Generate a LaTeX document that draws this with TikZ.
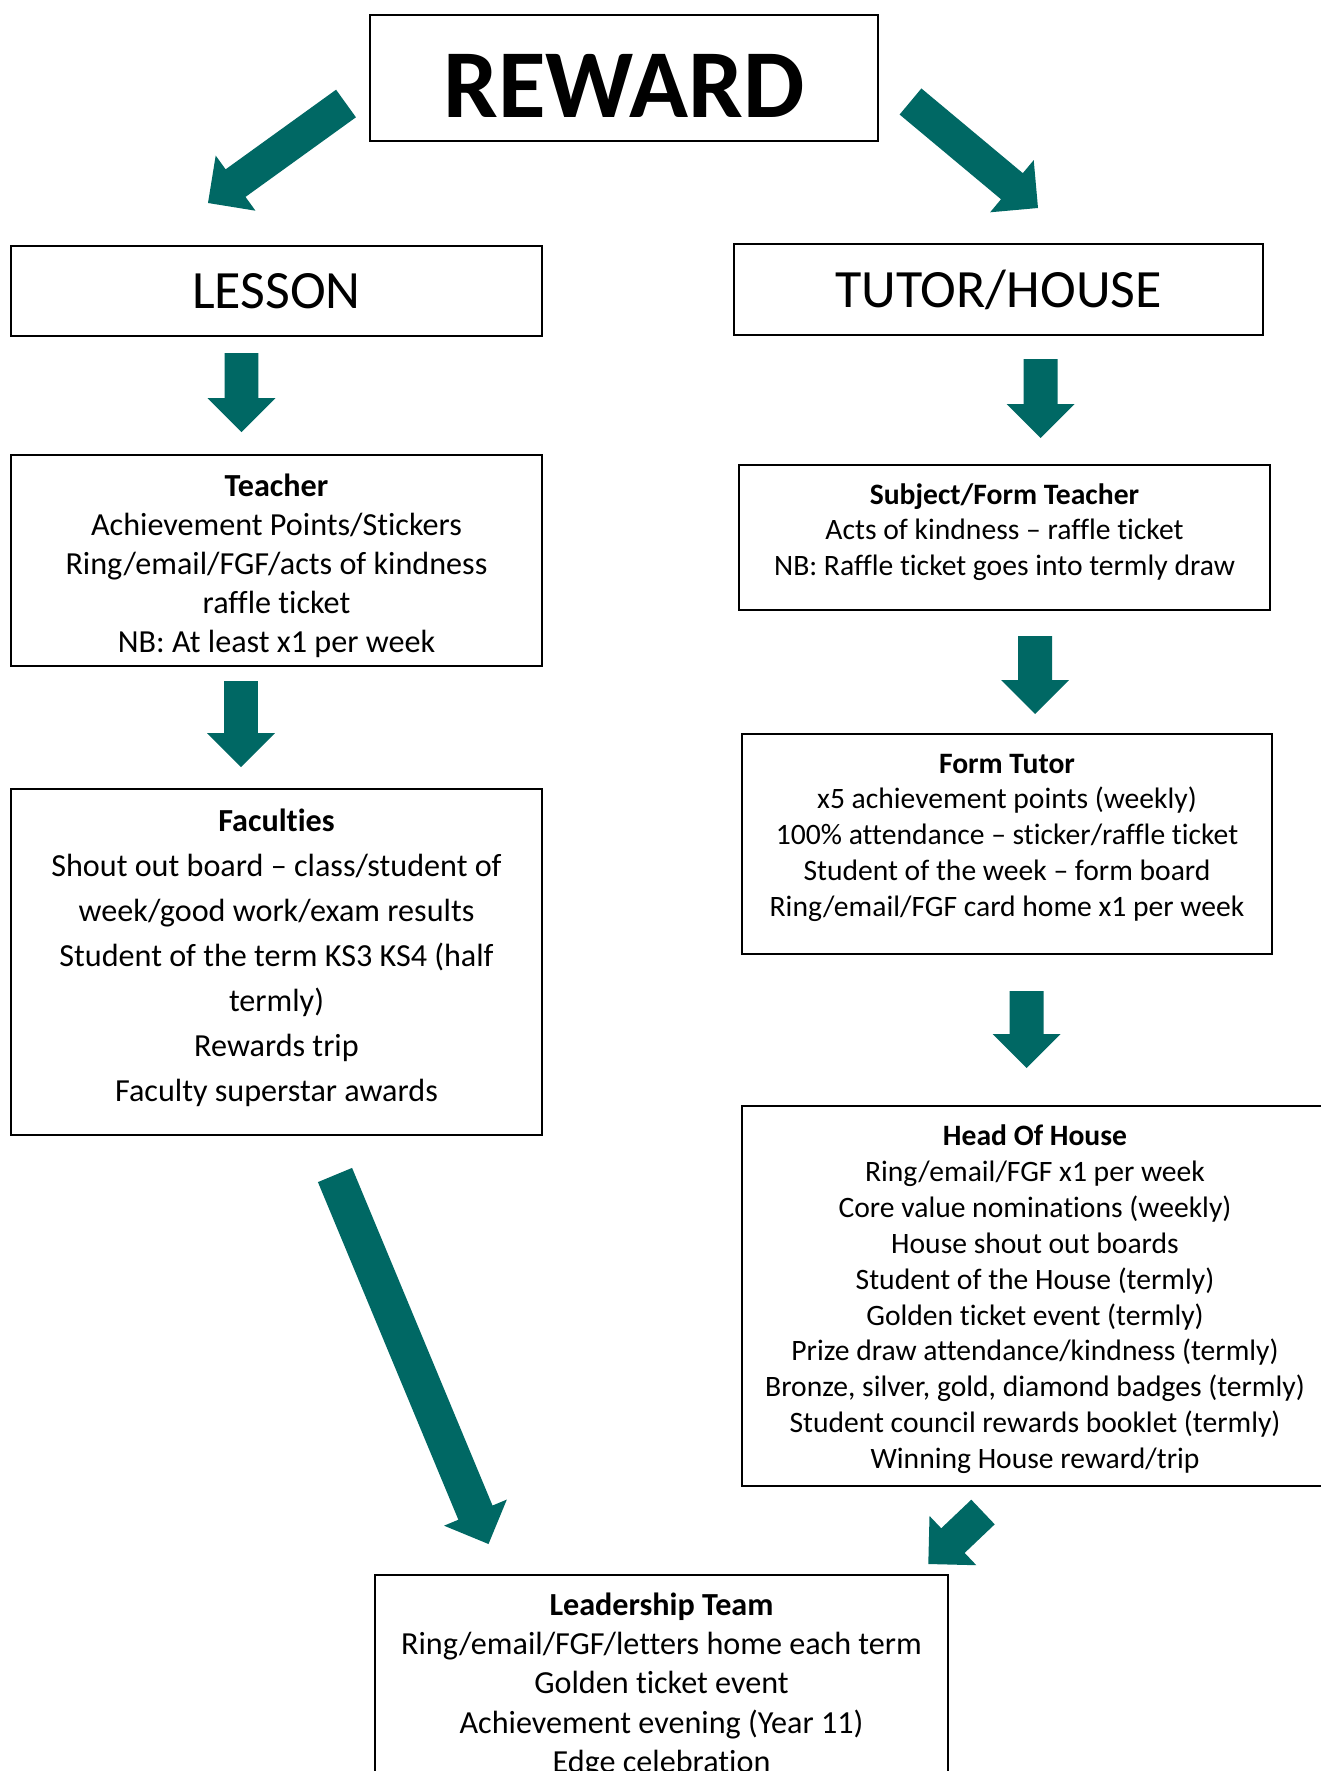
\documentclass[tikz,border=0pt]{standalone}
\usepackage{fontspec}
\setmainfont{Carlito}[Ligatures={TeX,NoCommon}]
\usetikzlibrary{calc}
\definecolor{arrowteal}{RGB}{0,104,100}
\def\shaftw{0.34cm}
\def\headw{0.68cm}
\def\headl{0.68cm}
\def\fatarrow[#1](#2)(#3){\coordinate (fabase) at ($(#3)!\headl!(#2)$);
	\fill[#1] ($(#2)!\shaftw!90:(#3)$) -- ($(fabase)!\shaftw!90:(#3)$) -- ($(fabase)!\headw!90:(#3)$) -- (#3) -- ($(fabase)!\headw!-90:(#3)$) -- ($(fabase)!\shaftw!-90:(#3)$) -- ($(#2)!\shaftw!-90:(#3)$) -- cycle;}
\newcommand{\uppad}[1]{\rule{0pt}{#1}}
\newcommand{\lowpad}[1]{\rule[-#1]{0pt}{#1}}
\tikzset{
	box/.style={draw, line width=1.1pt, align=center, inner sep=0pt},
	bodyA/.style={font=\fontsize{18.3}{22.3}\selectfont},
	bodyB/.style={font=\fontsize{16.85}{20.4}\selectfont},
}

\begin{document}
\begin{tikzpicture}[x=0.02cm, y=-0.02cm]
		%%%%% START %%%%%
		\useasboundingbox (0,0) rectangle (1321,1771);
		\clip (0,0) rectangle (1321,1771);
		\fill[white] (0,0) rectangle (1321,1771);
		
		\node[box, minimum width=10.16cm, minimum height=2.52cm, text height=45pt, font=\fontsize{55.4}{60}\selectfont\bfseries] (reward) at (624,78) {REWARD};
		
		\node[box, minimum width=10.62cm, minimum height=1.8cm, font=\fontsize{30.7}{36}\selectfont] (lesson) at (276.5,291) {LESSON};
		\node[box, minimum width=10.58cm, minimum height=1.82cm, font=\fontsize{30.7}{36}\selectfont] (tutor) at (998.5,289.5) {TUTOR/HOUSE};
		
		\node[box, bodyA, minimum width=10.62cm, minimum height=4.22cm] (teacher) at (276.5,560.5) {\uppad{19pt}\textbf{Teacher}\\Achievement Points/Stickers\\Ring/email/FGF/acts of kindness\\raffle ticket\\NB: At least x1 per week};
		\node[box, bodyB, minimum width=10.62cm, minimum height=2.9cm] (subject) at (1004.5,537.5) {\textbf{Subject/Form Teacher}\\Acts of kindness -- raffle ticket\\NB: Raffle ticket goes into termly draw\lowpad{9pt}};
		
		\node[box, minimum width=10.62cm, minimum height=6.92cm, font=\fontsize{18.3}{25.6}\selectfont] (faculties) at (276.5,962) {\textbf{Faculties}\\Shout out board -- class/student of\\week/good work/exam results\\Student of the term KS3 KS4 (half\\termly)\\Rewards trip\\Faculty superstar awards\lowpad{7.5pt}};
		\node[box, bodyB, minimum width=10.6cm, minimum height=4.4cm] (formtutor) at (1007,844) {\textbf{Form Tutor}\\x5 achievement points (weekly)\\100\% attendance -- sticker/raffle ticket\\Student of the week -- form board\\Ring/email/FGF card home x1 per week\lowpad{10pt}};
		
		\node[box, bodyB, minimum width=11.72cm, minimum height=7.6cm] (hoh) at (1035,1296) {\uppad{15.5pt}\textbf{Head Of House}\\Ring/email/FGF x1 per week\\Core value nominations (weekly)\\House shout out boards\\Student of the House (termly)\\Golden ticket event (termly)\\Prize draw attendance/kindness (termly)\\Bronze, silver, gold, diamond badges (termly)\\Student council rewards booklet (termly)\\Winning House reward/trip};
		
		\node[box, bodyA, minimum width=11.46cm, minimum height=4.42cm, anchor=north] (leaders) at (661.5,1574) {\textbf{Leadership Team}\\Ring/email/FGF/letters home each term\\Golden ticket event\\Achievement evening (Year 11)\\Edge celebration};
		
		% arrow ends
		\coordinate (rl-s) at (346,103.5);
		\coordinate (rl-e) at (208,203);
		\coordinate (rt-s) at (910.5,101.5);
		\coordinate (rt-e) at (1038,208);
		\coordinate (lt-s) at (241.5,353);
		\coordinate (lt-e) at (241.5,432);
		\coordinate (ts-s) at (1040.5,359);
		\coordinate (ts-e) at (1040.5,438);
		\coordinate (tf-s) at (241,681);
		\coordinate (tf-e) at (241,767);
		\coordinate (sf-s) at (1035,636);
		\coordinate (sf-e) at (1035,714);
		\coordinate (fh-s) at (1026.5,991);
		\coordinate (fh-e) at (1026.5,1068);
		\coordinate (fl-s) at (335,1175);
		\coordinate (fl-e) at (488.5,1544);
		\coordinate (hl-s) at (983,1512);
		\coordinate (hl-e) at (928.3,1564);
		
		\fatarrow[arrowteal](rl-s)(rl-e)
		\fatarrow[arrowteal](rt-s)(rt-e)
		\fatarrow[arrowteal](lt-s)(lt-e)
		\fatarrow[arrowteal](ts-s)(ts-e)
		\fatarrow[arrowteal](tf-s)(tf-e)
		\fatarrow[arrowteal](sf-s)(sf-e)
		\fatarrow[arrowteal](fh-s)(fh-e)
		{\def\shaftw{0.37cm}\fatarrow[arrowteal](fl-s)(fl-e)}
		\fatarrow[arrowteal](hl-s)(hl-e)
		
		%%%%% END %%%%%
\end{tikzpicture}
\end{document}
